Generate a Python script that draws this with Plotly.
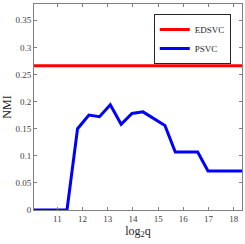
import plotly.graph_objects as go

log2q = [10.07, 10.50, 10.94, 11.38, 11.80, 12.25, 12.67, 13.10, 13.53, 13.96,
         14.40, 14.84, 15.27, 15.68, 16.12, 16.57, 16.98, 17.42, 17.88, 18.35]
psvc = [0, 0, 0, 0, 0.150, 0.175, 0.172, 0.194, 0.158, 0.178,
        0.181, 0.168, 0.156, 0.107, 0.107, 0.107, 0.072, 0.072, 0.072, 0.072]
edsvc_value = 0.266
x_ticks = [11, 12, 13, 14, 15, 16, 17, 18]
y_ticks = [0, 0.05, 0.1, 0.15, 0.2, 0.25, 0.3, 0.35]
y_tick_labels = ["0", "0.05", "0.1", "0.15", "0.2", "0.25", "0.3", "0.35"]

SERIF = "Liberation Serif, Times New Roman, serif"

fig = go.Figure()
fig.add_trace(go.Scatter(x=[log2q[0], log2q[-1]], y=[edsvc_value, edsvc_value],
                         mode="lines", name="EDSVC",
                         line=dict(color="#ff0000", width=3)))
fig.add_trace(go.Scatter(x=log2q, y=psvc, mode="lines", name="PSVC",
                         line=dict(color="#0000ff", width=3)))

axis_common = dict(showgrid=False, zeroline=False, showline=True, linecolor="#808080",
                   linewidth=1, mirror="ticks", ticks="inside", ticklen=3,
                   tickcolor="#808080", automargin=False,
                   tickfont=dict(family=SERIF, size=9, color="#404040"))
fig.update_xaxes(range=[10.07, 18.33], tickvals=x_ticks,
                 title=dict(text="log<sub>2</sub>q", standoff=2,
                            font=dict(family=SERIF, size=12, color="#262626")),
                 **axis_common)
fig.update_yaxes(range=[0, 0.38], tickvals=y_ticks, ticktext=y_tick_labels,
                 title=dict(text="NMI", standoff=2,
                            font=dict(family=SERIF, size=12, color="#262626")),
                 **axis_common)
fig.update_layout(
    width=245, height=244,
    margin=dict(l=34, r=3, t=4, b=34),
    plot_bgcolor="white", paper_bgcolor="white",
    legend=dict(x=0.946, y=0.951, xanchor="right", yanchor="top",
                bordercolor="#262626", borderwidth=1, bgcolor="white",
                font=dict(family=SERIF, size=9, color="#262626"),
                itemwidth=30, tracegroupgap=0),
)
fig.write_html("out.html", config={"displayModeBar": False},
               post_script="document.body.style.margin='0';document.body.style.padding='0';document.body.style.overflow='hidden';")
